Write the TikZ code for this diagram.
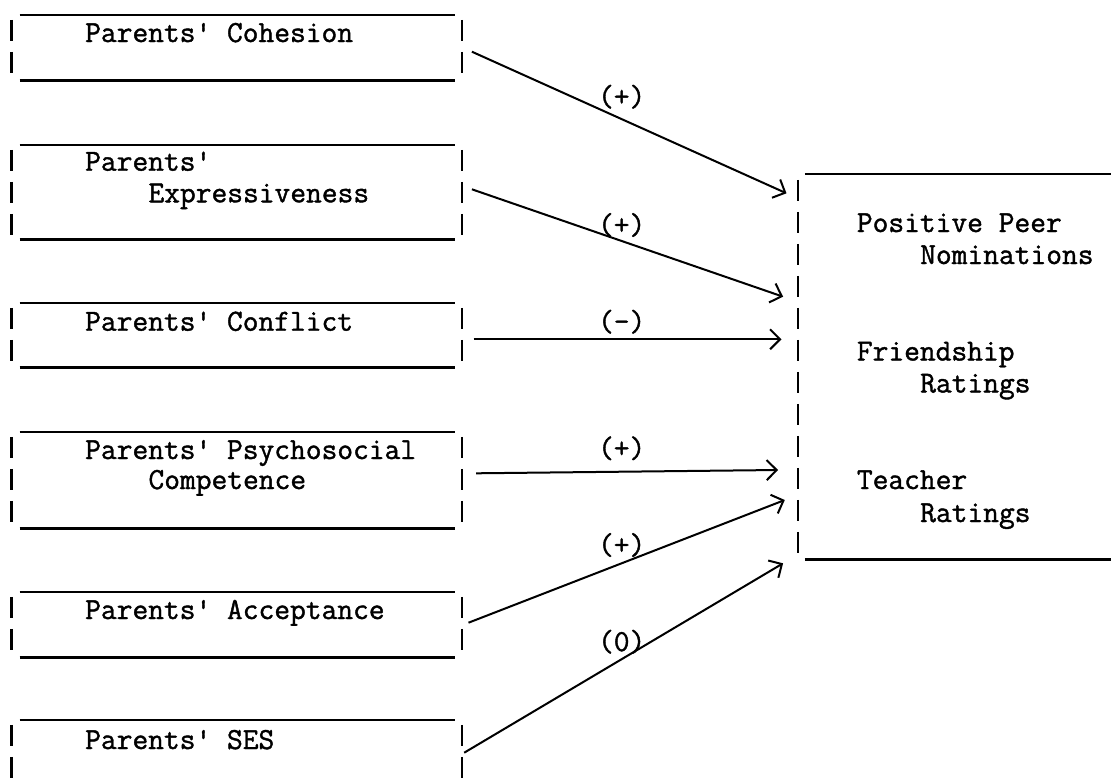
\documentclass[tikz,border=0pt]{standalone}
\usepackage{fontspec}
\setmonofont{Latin Modern Mono}[AutoFakeBold=1.3]
\usetikzlibrary{arrows.meta,calc}
\begin{document}
\begin{tikzpicture}[x=1pt,y=-1pt]
  \tikzstyle{every node}=[font=\fontsize{30.6}{32}\selectfont\ttfamily\bfseries,inner sep=0]
  \tikzstyle{srcbox}=[rectangle,minimum width=450]
  \tikzstyle{txt}=[anchor=base west]
  \tikzstyle{sign}=[anchor=center]
  \tikzstyle{hline}=[line width=2.6pt]
  \tikzstyle{vdash}=[line width=2.4pt,dash pattern=on 21pt off 11pt]
  \tikzstyle{arr}=[line width=2pt,-{Straight Barb[length=10pt,width=20pt]}]
  \useasboundingbox (0,0) rectangle (1111,782);
  \clip (0,0) rectangle (1111,782);
  % parent measures
  \node[srcbox,minimum height=65] (coh) at (236.7,47.5) {};
  \node[srcbox,minimum height=94] (exp) at (236.7,192) {};
  \node[srcbox,minimum height=64] (con) at (236.7,335) {};
  \node[srcbox,minimum height=96] (psy) at (236.7,480) {};
  \node[srcbox,minimum height=65] (acc) at (236.7,624.5) {};
  \node[srcbox,minimum height=96] (ses) at (236.7,768) {};
  \foreach \b in {coh,exp,con,psy,acc,ses}{
    \draw[hline] ([xshift=8pt]\b.north west) -- ([xshift=-7pt]\b.north east);
    \draw[hline] ([xshift=8pt]\b.south west) -- ([xshift=-7pt]\b.south east);
    \draw[vdash] ([yshift=-5pt]\b.north west) -- ([yshift=3pt]\b.south west);
    \draw[vdash] ([yshift=-5pt]\b.north east) -- ([yshift=3pt]\b.south east);
  }
  \node[txt] (coht) at (85,42) {Parents\textquotesingle{} Cohesion};
  \node[txt] (expt) at (85,170.7) {Parents\textquotesingle};
  \node[txt] (expu) at (148.3,202.3) {Expressiveness};
  \node[txt] (cont) at (85,330.7) {Parents\textquotesingle{} Conflict};
  \node[txt] (psyt) at (85,459) {Parents\textquotesingle{} Psychosocial};
  \node[txt] (psyu) at (148.3,489) {Competence};
  \node[txt] (acct) at (85,619) {Parents\textquotesingle{} Acceptance};
  \node[txt] (sest) at (85,749) {Parents\textquotesingle{} SES};
  % child outcomes
  \node[rectangle,minimum width=340,minimum height=385] (tgt) at (968,366.5) {};
  \draw[hline] ([xshift=7pt]tgt.north west) -- (tgt.north east);
  \draw[hline] ([xshift=7pt]tgt.south west) -- (tgt.south east);
  \draw[vdash] ([yshift=-6pt]tgt.north west) -- ([yshift=6pt]tgt.south west);
  \node[txt] (ppn) at (856.7,232) {Positive Peer};
  \node[txt] (ppm) at (920,264) {Nominations};
  \node[txt] (frn) at (856.7,360.5) {Friendship};
  \node[txt] (frm) at (920,392.5) {Ratings};
  \node[txt] (tcn) at (856.7,489) {Teacher};
  \node[txt] (tcm) at (920,522) {Ratings};
  % paths
  \draw[arr] ($(coh.east)+(10,4.2)$) -- ($(tgt.west)+(-11.3,-173.2)$);
  \draw[arr] ($(exp.east)+(10,-2.7)$) -- ($(tgt.west)+(-14.7,-69.8)$);
  \draw[arr] ($(con.east)+(11.6,4.3)$) -- ($(tgt.west)+(-16.3,-27.2)$);
  \draw[arr] ($(psy.east)+(14.3,-6.7)$) -- ($(tgt.west)+(-19.7,103.5)$);
  \draw[arr] ($(acc.east)+(6.6,-1.8)$) -- ($(tgt.west)+(-13,133.5)$);
  \draw[arr] ($(ses.east)+(2.3,-15.3)$) -- ($(tgt.west)+(-14.7,196.8)$);
  \node[sign] (s1) at (621.7,96.7) {(+)};
  \node[sign] (s2) at (621.7,225) {(+)};
  \node[sign] (s3) at (621.7,321.7) {(-)};
  \node[sign] (s4) at (621.7,448.3) {(+)};
  \node[sign] (s5) at (621.7,545) {(+)};
  \node[sign] (s6) at (621.7,641.7) {(0)};
\end{tikzpicture}
\end{document}
